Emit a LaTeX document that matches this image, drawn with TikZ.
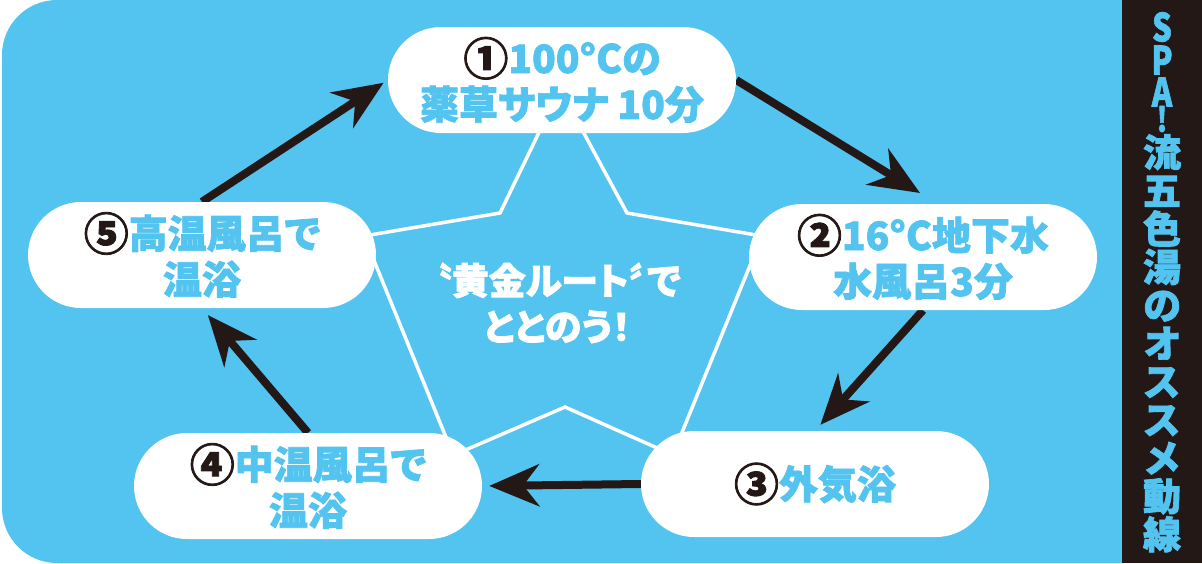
\documentclass[tikz,border=0pt]{standalone}
\usepackage{fontspec}
\usepackage{xcolor}
\usepackage{graphicx}
\usepackage{tikz}
\usetikzlibrary{arrows.meta,backgrounds}
\newfontfamily\jpfont{Noto Sans CJK JP}[RawFeature=+palt,BoldFeatures={FakeBold=1.8}]
\definecolor{AzulBano}{RGB}{83,195,240}
\definecolor{NegroTinta}{RGB}{35,24,21}
\newcommand{\circulo}[1]{\textcolor{NegroTinta}{\raisebox{-0.06em}{\scalebox{1.15}{#1}}}}

\begin{document}
\begin{tikzpicture}[x=1pt,y=-1pt,
  paso/.style={fill=white,rounded corners=53pt,minimum width=348pt,minimum height=106pt,
    inner sep=0pt,align=center,text=AzulBano,font=\jpfont\bfseries\fontsize{39}{46}\selectfont},
  flecha/.style={line width=8pt,draw=NegroTinta,-{Stealth[length=50pt,width=42pt,inset=16pt]}},
  latina/.style={text=AzulBano,inner sep=0pt,font=\jpfont\bfseries\fontsize{31}{31}\selectfont}]
  \useasboundingbox (0,0) rectangle (1202,563);

  % los cinco pasos
  \node[paso] (p1) at (562,80) {\circulo{①}100°Cの\\薬草サウナ 10分};
  \node[paso] (p2) at (923,257) {\circulo{②}16°C地下水\\水風呂3分};
  \node[paso] (p3) at (815,484) {\circulo{③}外気浴};
  \node[paso] (p4) at (308,486) {\circulo{④}中温風呂で\\温浴};
  \node[paso] (p5) at (202,255) {\circulo{⑤}高温風呂で\\温浴};
  \coordinate (f12) at (920,193);

  \node[text=white,align=center,inner sep=0pt,
    font=\jpfont\bfseries\fontsize{37}{46}\selectfont] (lema) at (557,303) {〝黄金ルート〞で\\ととのう！};

  % franja lateral
  \fill[NegroTinta] (1122,0) rectangle (1202,563);
  \foreach \c/\y [count=\i] in {S/27,P/60,A/92}
    \node[latina] (l\i) at (1162,\y) {\scalebox{1}[1.25]{\c}};
  \node[latina,font=\jpfont\bfseries\fontsize{27}{27}\selectfont] (l4) at (1162,119) {\scalebox{1}[1.25]{!}};
  \node[anchor=north,text=AzulBano,inner sep=0pt,align=center,
    font=\jpfont\bfseries\fontsize{38}{38.2}\selectfont] (titulo) at (1162,134)
    {流\\五\\色\\湯\\の\\オ\\ス\\ス\\メ\\動\\線};

  \begin{scope}[on background layer]
    \fill[AzulBano] (1124,0) [rounded corners=55pt] -- (2,0) -- (2,563) [sharp corners] -- (1124,563) -- cycle;
    % estrella
    \draw[white,line width=3.5pt] (560,89) -- (627,213) -- (762,236) -- (672,457) -- (700,467)
      -- (565,407) -- (426,467) -- (454,457) -- (364,236) -- (500,213) -- cycle;
    \draw[flecha] (p1.east) -- (f12);
    \draw[flecha,shorten >=8pt] (p2.south) -- (p3.north);
    \draw[flecha,shorten >=7pt] (p3.west) -- (p4.east);
    \draw[flecha,shorten >=9pt] (p4.north) -- (p5.south);
    \draw[flecha,shorten >=5pt] (p5.north) -- (p1.west);
  \end{scope}
\end{tikzpicture}
\end{document}
